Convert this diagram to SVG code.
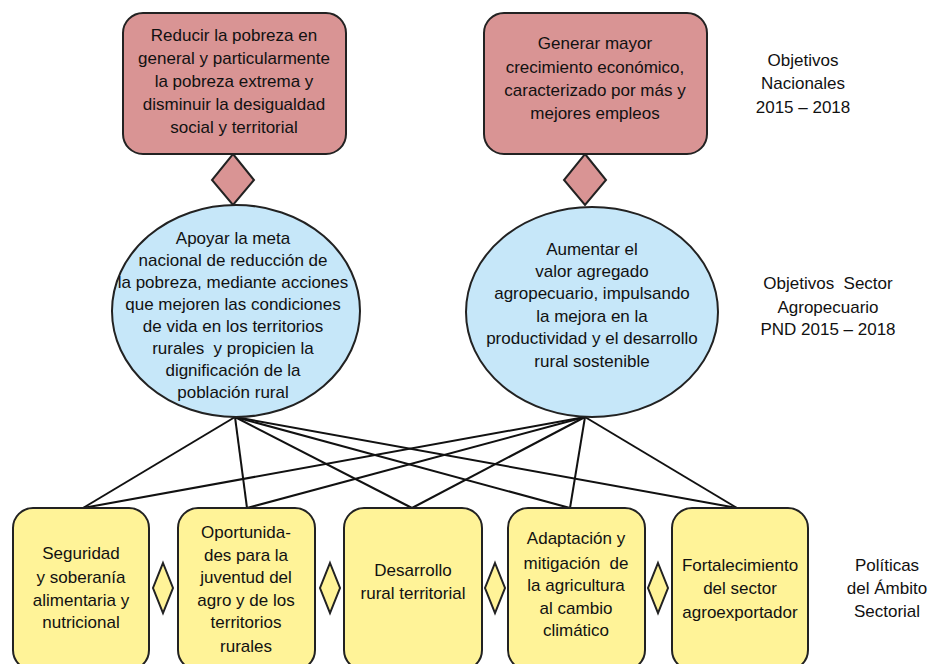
<svg xmlns="http://www.w3.org/2000/svg" width="932" height="664" viewBox="0 0 932 664">
<style>
text{font-family:"Liberation Sans",Arial,sans-serif;font-size:17px;fill:#111;text-anchor:middle;white-space:pre}
.nat{fill:#D99494;stroke:#222;stroke-width:2}
.sec{fill:#C6E7F9;stroke:#222;stroke-width:2}
.pol{fill:#FFF398;stroke:#222;stroke-width:2}
.ln{stroke:#111;stroke-width:2;fill:none}
</style>
<rect width="932" height="664" fill="#fff"/>
<g id="connectors">
<line class="ln" x1="235" y1="417" x2="83" y2="508"/>
<line class="ln" x1="235" y1="417" x2="247" y2="508"/>
<line class="ln" x1="235" y1="417" x2="412" y2="508"/>
<line class="ln" x1="235" y1="417" x2="570" y2="508"/>
<line class="ln" x1="235" y1="417" x2="737" y2="508"/>
<line class="ln" x1="585" y1="417" x2="83" y2="508"/>
<line class="ln" x1="585" y1="417" x2="247" y2="508"/>
<line class="ln" x1="585" y1="417" x2="412" y2="508"/>
<line class="ln" x1="585" y1="417" x2="570" y2="508"/>
<line class="ln" x1="585" y1="417" x2="737" y2="508"/>
<polygon class="nat" points="233,154 254,180 233,205 212,180"/>
<polygon class="nat" points="585,154 606,180 585,205 564,180"/>
<polygon class="pol" points="163,563 173,588 163,613 153,588"/>
<polygon class="pol" points="330,563 340,588 330,613 320,588"/>
<polygon class="pol" points="495,563 505,588 495,613 485,588"/>
<polygon class="pol" points="658,563 668,588 658,613 648,588"/>
</g>
<g id="nat1">
<rect class="nat" x="123" y="13" width="223" height="141" rx="20"/>
<text x="234" y="41">Reducir la pobreza en</text>
<text x="234" y="64">general y particularmente</text>
<text x="234" y="87">la pobreza extrema y</text>
<text x="234" y="110">disminuir la desigualdad</text>
<text x="234" y="133">social y territorial</text>
</g>
<g id="nat2">
<rect class="nat" x="484" y="13" width="223" height="141" rx="20"/>
<text x="595" y="49">Generar mayor</text>
<text x="595" y="73">crecimiento económico,</text>
<text x="595" y="96">caracterizado por más y</text>
<text x="595" y="119">mejores empleos</text>
</g>
<g id="sec1">
<ellipse class="sec" cx="236" cy="311" rx="124" ry="106"/>
<text x="233" y="244">Apoyar la meta</text>
<text x="233" y="266">nacional de reducción de</text>
<text x="233" y="288">la pobreza, mediante acciones</text>
<text x="233" y="310">que mejoren las condiciones</text>
<text x="233" y="332">de vida en los territorios</text>
<text x="233" y="354" xml:space="preserve">rurales  y propicien la</text>
<text x="233" y="376">dignificación de la</text>
<text x="233" y="398">población rural</text>
</g>
<g id="sec2">
<ellipse class="sec" cx="592" cy="312" rx="126" ry="105"/>
<text x="592" y="255">Aumentar el</text>
<text x="592" y="277">valor agregado</text>
<text x="592" y="299">agropecuario, impulsando</text>
<text x="592" y="322">la mejora en la</text>
<text x="592" y="344">productividad y el desarrollo</text>
<text x="592" y="367">rural sostenible</text>
</g>
<g id="pol1">
<rect class="pol" x="13" y="508" width="136" height="162" rx="20"/>
<text x="81" y="559">Seguridad</text>
<text x="81" y="583">y soberanía</text>
<text x="81" y="606">alimentaria y</text>
<text x="81" y="628">nutricional</text>
</g>
<g id="pol2">
<rect class="pol" x="178" y="508" width="137" height="162" rx="20"/>
<text x="246" y="538">Oportunida-</text>
<text x="246" y="561">des para la</text>
<text x="246" y="583">juventud del</text>
<text x="246" y="606">agro y de los</text>
<text x="246" y="628">territorios</text>
<text x="246" y="652">rurales</text>
</g>
<g id="pol3">
<rect class="pol" x="344" y="508" width="138" height="162" rx="20"/>
<text x="413" y="576">Desarrollo</text>
<text x="413" y="599">rural territorial</text>
</g>
<g id="pol4">
<rect class="pol" x="508" y="508" width="137" height="162" rx="20"/>
<text x="576" y="544">Adaptación y</text>
<text x="576" y="569" xml:space="preserve">mitigación  de</text>
<text x="576" y="591">la agricultura</text>
<text x="576" y="614">al cambio</text>
<text x="576" y="636">climático</text>
</g>
<g id="pol5">
<rect class="pol" x="672" y="508" width="136" height="162" rx="20"/>
<text x="740" y="571">Fortalecimiento</text>
<text x="740" y="594">del sector</text>
<text x="740" y="618">agroexportador</text>
</g>
<g id="labels">
<text x="803" y="66">Objetivos</text>
<text x="803" y="89">Nacionales</text>
<text x="803" y="113">2015 – 2018</text>
<text x="828" y="289" xml:space="preserve">Objetivos  Sector</text>
<text x="828" y="313">Agropecuario</text>
<text x="828" y="335">PND 2015 – 2018</text>
<text x="887" y="571">Políticas</text>
<text x="887" y="594">del Ámbito</text>
<text x="887" y="617">Sectorial</text>
</g>
</svg>
